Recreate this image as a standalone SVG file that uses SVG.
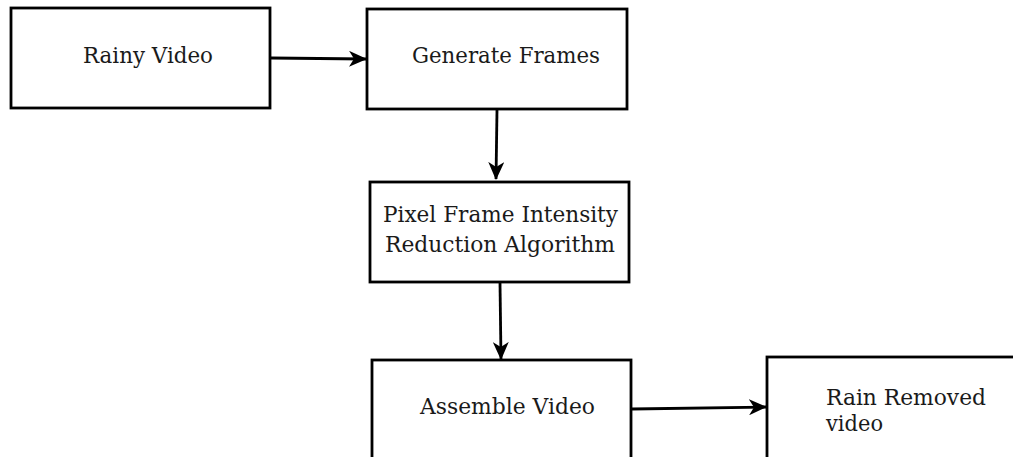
<svg xmlns="http://www.w3.org/2000/svg" width="1013" height="457" viewBox="0 0 1013 457">
<style>
.box{fill:#fff;stroke:#000;stroke-width:2.8}
.lbl{font-family:"DejaVu Serif","Liberation Serif",serif;font-size:23px;fill:#1a1a1a}
.edge{stroke:#000;stroke-width:2.8;fill:none}
</style>
<defs>
<marker id="ah" markerWidth="18" markerHeight="16" refX="17" refY="8" orient="auto" markerUnits="userSpaceOnUse">
<path d="M0,0 L18,8 L0,16 L5,8 Z" fill="#000"/>
</marker>
</defs>
<rect width="1013" height="457" fill="#fff"/>
<g id="connectors">
<line class="edge" x1="271" y1="58" x2="366" y2="59" marker-end="url(#ah)"/>
<line class="edge" x1="497" y1="110" x2="496" y2="179" marker-end="url(#ah)"/>
<line class="edge" x1="500" y1="283" x2="501" y2="359" marker-end="url(#ah)"/>
<line class="edge" x1="632" y1="409" x2="766" y2="407" marker-end="url(#ah)"/>
</g>
<g id="rainy-video">
<rect class="box" x="11" y="8" width="259" height="100"/>
<text class="lbl" x="83" y="63" textLength="130" lengthAdjust="spacingAndGlyphs">Rainy Video</text>
</g>
<g id="generate-frames">
<rect class="box" x="367" y="9" width="260" height="100"/>
<text class="lbl" x="412" y="63" textLength="188" lengthAdjust="spacingAndGlyphs">Generate Frames</text>
</g>
<g id="pfira">
<rect class="box" x="370" y="182" width="259" height="100"/>
<text class="lbl" x="383" y="222" textLength="235" lengthAdjust="spacingAndGlyphs">Pixel Frame Intensity</text>
<text class="lbl" x="385" y="252" textLength="230" lengthAdjust="spacingAndGlyphs">Reduction Algorithm</text>
</g>
<g id="assemble-video">
<rect class="box" x="372" y="360" width="259" height="110"/>
<text class="lbl" x="420" y="414" textLength="175" lengthAdjust="spacingAndGlyphs">Assemble Video</text>
</g>
<g id="rain-removed">
<rect class="box" x="767" y="357" width="260" height="110"/>
<text class="lbl" x="826" y="405" textLength="160" lengthAdjust="spacingAndGlyphs">Rain Removed</text>
<text class="lbl" x="826" y="431" textLength="57" lengthAdjust="spacingAndGlyphs">video</text>
</g>
</svg>
